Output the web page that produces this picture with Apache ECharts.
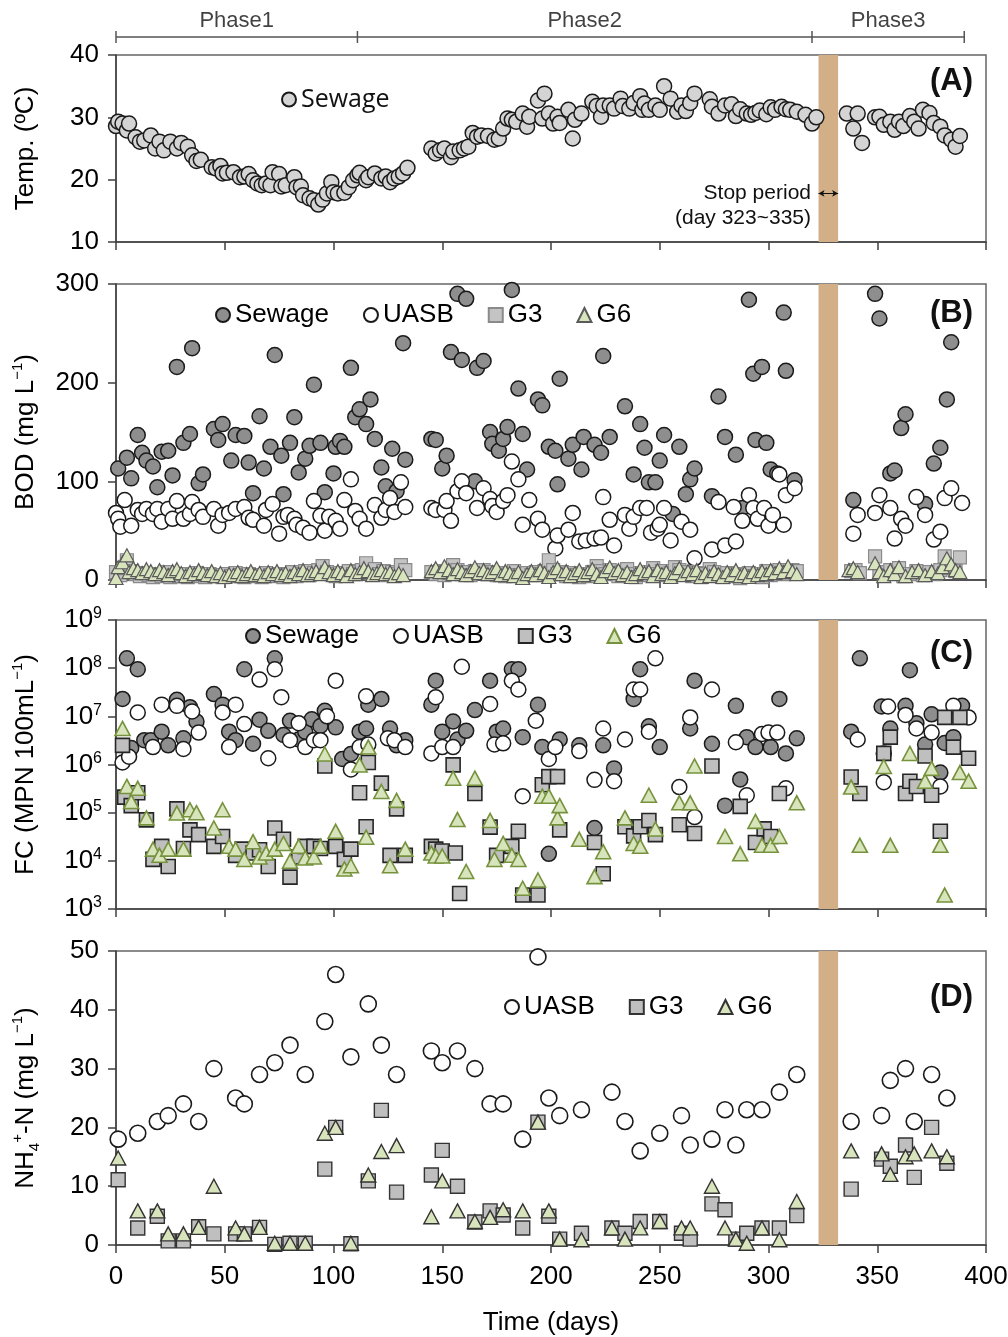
<!DOCTYPE html>
<html><head><meta charset="utf-8">
<script src="https://cdn.jsdelivr.net/npm/echarts/dist/echarts.min.js"></script>
<style>html,body{margin:0;padding:0;background:#fff}#c{width:1008px;height:1337px}</style>
</head><body><div id="c"></div><script>
// ---------- data ----------
const phaseBounds = [0, 111, 320, 390];
const phaseNames = ['Phase1', 'Phase2', 'Phase3'];
const stopPeriod = [323, 332];
const xTickLabels = [0, 50, 100, 150, 200, 250, 300, 350, 400];

// (A) Temperature of sewage [day, degC]
const tempSewage = [[0,28.6],[1,29.3],[3,29.0],[5,27.9],[6,29.0],[9,26.8],[11,26.1],[13,26.3],[16,27.1],[18,25.0],[20,26.1],[22,24.7],[25,26.1],[28,25.0],[30,25.9],[33,25.3],[35,23.9],[37,23.0],[39,23.2],[44,22.0],[46,21.8],[48,22.2],[49,21.0],[51,21.1],[54,21.2],[57,20.4],[59,20.5],[61,20.9],[63,19.9],[65,19.4],[67,19.1],[69,19.4],[71,19.1],[72,21.2],[75,20.9],[76,18.9],[78,19.1],[82,20.4],[83,18.8],[85,18.9],[86,17.5],[89,17.0],[91,16.7],[93,16.0],[95,16.8],[97,17.8],[99,19.6],[100,18.0],[102,17.8],[105,17.9],[107,18.8],[109,19.9],[111,20.7],[112,21.1],[115,19.9],[116,20.4],[119,21.0],[122,20.2],[124,20.5],[126,19.6],[128,20.2],[130,20.5],[132,21.0],[134,21.9],
[145,25.0],[147,24.2],[149,24.7],[151,25.0],[154,23.6],[155,24.5],[158,24.7],[160,25.0],[162,25.3],[164,27.5],[166,26.9],[168,27.1],[171,27.0],[174,26.4],[176,26.6],[178,28.2],[180,29.8],[182,29.6],[184,29.3],[187,30.6],[189,28.5],[190,30.1],[194,32.7],[196,29.8],[197,33.8],[199,30.6],[201,29.0],[203,30.1],[204,29.1],[208,31.2],[210,26.6],[211,29.6],[214,30.6],[219,32.5],[221,31.8],[223,30.1],[224,31.9],[227,31.9],[229,31.4],[232,33.0],[233,31.8],[236,31.4],[238,32.3],[241,33.4],[242,31.2],[243,32.2],[245,31.2],[248,31.9],[250,31.2],[252,35.0],[255,33.0],[258,30.9],[260,31.9],[262,31.0],[264,32.3],[266,33.8],[273,32.9],[274,31.7],[277,30.6],[280,31.9],[283,32.1],[285,30.2],[287,31.3],[290,30.6],[292,30.4],[294,30.7],[296,31.1],[299,30.5],[301,31.6],[303,31.2],[306,31.7],[308,31.3],[310,31.2],[313,30.9],[317,30.4],[320,29.0],[322,30.0],
[336,30.6],[339,28.2],[341,30.6],[343,25.9],[349,30.0],[351,30.1],[353,28.8],[356,29.3],[358,28.0],[360,29.3],[362,28.6],[365,30.2],[367,29.3],[369,28.2],[371,31.2],[374,30.7],[376,29.1],[379,28.5],[381,27.1],[384,26.4],[386,25.3],[388,27.0]];

// (B) BOD [day, mg/L]
const bodSewage = [[1,113],[5,124],[7,103],[10,147],[12,129],[14,121],[17,115],[19,94],[21,130],[24,131],[26,106],[28,216],[31,139],[34,148],[35,235],[38,98],[40,107],[45,153],[47,142],[49,158],[53,121],[55,147],[59,146],[61,119],[63,88],[66,166],[68,113],[71,135],[73,228],[76,126],[77,87],[80,139],[82,165],[84,109],[87,123],[89,136],[91,198],[94,139],[96,89],[100,108],[101,135],[103,141],[105,135],[108,215],[110,165],[112,173],[115,158],[117,183],[119,143],[122,114],[124,95],[127,133],[129,90],[132,240],[133,122],
[145,143],[147,142],[150,113],[152,126],[154,231],[157,290],[159,223],[161,285],[165,100],[166,215],[169,222],[172,150],[173,138],[176,131],[178,143],[180,155],[182,294],[185,194],[187,148],[189,112],[194,183],[196,177],[199,135],[202,131],[203,97],[204,204],[208,123],[210,137],[214,112],[215,145],[220,137],[223,129],[224,227],[227,145],[234,176],[238,107],[241,158],[243,134],[245,99],[248,99],[250,121],[252,147],[256,67],[259,135],[262,87],[264,102],[266,113],[274,85],[277,186],[280,145],[285,127],[288,73],[291,284],[293,209],[294,142],[297,216],[299,139],[301,112],[304,108],[307,271],[308,212],[312,101],
[339,81],[349,290],[351,265],[356,108],[358,111],[361,154],[363,168],[372,77],[376,118],[379,134],[382,183],[384,241]];
const bodUASB = [[0,68],[1,62],[2,54],[4,81],[7,55],[10,71],[12,67],[14,72],[17,67],[19,72],[21,59],[24,72],[26,62],[28,80],[31,62],[34,67],[35,79],[38,71],[40,64],[45,72],[47,55],[49,66],[52,68],[55,72],[59,74],[61,63],[63,61],[68,55],[69,71],[72,77],[75,47],[77,64],[79,66],[82,62],[83,56],[86,53],[89,48],[91,80],[94,65],[96,50],[98,64],[101,60],[103,52],[105,81],[108,102],[110,70],[112,62],[115,52],[119,76],[122,63],[124,71],[126,83],[128,69],[131,99],[133,74],
[145,73],[147,71],[151,71],[152,80],[154,60],[157,90],[159,100],[161,88],[166,73],[169,93],[172,82],[173,75],[175,69],[178,80],[180,86],[182,120],[185,102],[187,56],[190,81],[194,62],[196,51],[202,32],[203,45],[208,51],[210,68],[213,39],[216,40],[220,42],[223,43],[224,84],[227,61],[229,35],[234,66],[236,52],[238,64],[241,73],[244,73],[246,48],[249,52],[250,56],[252,73],[255,40],[260,59],[264,51],[266,22],[274,31],[277,79],[280,35],[284,74],[285,39],[288,60],[291,86],[293,73],[295,62],[298,73],[300,55],[302,66],[305,107],[307,56],[308,86],[312,93],
[339,47],[341,66],[349,68],[351,86],[356,73],[358,42],[361,62],[363,55],[368,84],[372,66],[376,41],[379,49],[381,83],[384,93],[389,78]];
const bodG3 = [[0,8],[2,5],[4,12],[5,20],[7,9],[9,6],[11,4],[13,7],[15,5],[17,3],[19,6],[21,4],[23,8],[25,3],[27,5],[29,4],[31,6],[33,3],[35,5],[37,7],[39,4],[41,3],[43,6],[45,4],[47,5],[49,3],[51,6],[53,4],[55,7],[57,5],[59,3],[61,6],[63,4],[65,5],[67,3],[69,7],[71,5],[73,4],[75,6],[77,3],[79,5],[81,8],[83,4],[85,6],[87,9],[89,5],[91,7],[93,10],[95,14],[97,8],[99,6],[101,4],[103,7],[105,5],[107,9],[109,6],[111,8],[113,10],[115,17],[117,7],[119,11],[121,6],[123,9],[125,5],[127,8],[129,6],[131,15],[133,10],
[145,8],[147,6],[149,9],[151,5],[153,7],[155,15],[157,10],[159,6],[161,8],[163,5],[165,9],[167,7],[169,10],[171,6],[173,8],[175,5],[177,7],[179,4],[181,6],[183,9],[185,5],[187,3],[189,7],[191,5],[193,8],[195,6],[197,9],[199,20],[201,10],[203,6],[205,8],[207,4],[209,7],[211,5],[213,3],[215,6],[217,4],[219,8],[221,14],[223,9],[225,6],[227,10],[229,7],[231,4],[233,8],[235,11],[237,6],[239,3],[241,7],[243,5],[245,8],[247,12],[249,6],[251,9],[253,5],[255,7],[257,13],[259,10],[261,6],[263,8],[265,4],[267,7],[269,3],[271,6],[273,11],[275,8],[277,5],[279,3],[281,7],[283,4],[285,6],[287,2],[289,5],[291,7],[293,4],[295,6],[297,3],[299,9],[301,5],[303,7],[305,10],[307,6],[309,8],[311,10],[313,9],
[338,9],[340,10],[342,7],[349,24],[351,8],[353,5],[356,10],[358,7],[360,12],[362,4],[365,6],[368,9],[371,5],[374,8],[377,6],[379,10],[381,24],[383,12],[386,9],[388,23]];
const bodG6 = [[0,2],[1,13],[3,18],[5,25],[6,8],[8,12],[10,10],[12,7],[14,11],[16,9],[18,6],[20,10],[22,8],[24,5],[26,9],[28,11],[30,7],[32,4],[34,8],[36,6],[38,10],[40,7],[42,5],[44,9],[46,4],[48,7],[50,3],[52,6],[54,5],[56,8],[58,4],[60,6],[62,9],[64,5],[66,7],[68,4],[70,8],[72,6],[74,9],[76,5],[78,7],[80,4],[82,8],[84,6],[86,10],[88,5],[90,7],[92,9],[94,6],[96,13],[98,8],[100,5],[102,9],[104,7],[106,4],[108,10],[110,6],[112,8],[114,12],[116,9],[118,5],[120,7],[122,10],[124,6],[126,8],[128,4],[130,7],[132,5],
[145,9],[147,12],[149,8],[151,14],[153,10],[155,6],[157,11],[159,8],[161,5],[163,9],[165,13],[167,7],[169,10],[171,6],[173,8],[175,12],[177,5],[179,9],[181,7],[183,4],[185,8],[187,2],[189,6],[191,9],[193,5],[195,10],[197,7],[199,3],[201,8],[203,12],[205,6],[207,9],[209,4],[211,7],[213,10],[215,5],[217,8],[219,11],[221,6],[223,3],[225,9],[227,13],[229,7],[231,10],[233,5],[235,8],[237,3],[239,6],[241,11],[243,7],[245,9],[247,4],[249,10],[251,6],[253,8],[255,3],[257,7],[259,12],[261,5],[263,9],[265,6],[267,10],[269,3],[271,7],[273,4],[275,9],[277,6],[279,3],[281,8],[283,5],[285,10],[287,4],[289,7],[291,3],[293,8],[295,5],[297,9],[299,6],[301,10],[303,7],[305,12],[307,8],[309,14],[311,9],[313,6],
[337,10],[339,12],[341,8],[349,17],[351,8],[353,4],[356,10],[358,6],[360,13],[363,4],[366,8],[369,10],[372,5],[375,9],[378,7],[380,13],[382,22],[384,16],[386,10],[388,8]];

// (C) Fecal coliforms [day, MPN/100mL]
const fcSewage = [[3,2.3e7],[5,1.6e8],[7,2.2e6],[10,9.5e7],[13,3.2e6],[16,3.2e6],[21,4.8e6],[24,2.5e6],[28,2.2e7],[31,3.5e6],[34,1.55e7],[37,7.8e6],[45,2.9e7],[49,1.75e7],[52,4.8e6],[55,3.2e6],[59,9.5e7],[63,2.7e6],[66,8.5e6],[70,5.0e6],[73,1.6e8],[77,4.1e6],[80,8.1e6],[84,3.3e6],[87,4.8e6],[90,8.7e6],[94,6.3e6],[96,1.3e7],[101,5.9e6],[104,1.3e6],[108,1.65e6],[112,4.8e6],[115,5.6e6],[116,1.75e7],[122,2.3e7],[126,5.6e6],[129,2.5e6],[133,3.2e6],
[145,1.75e7],[147,5.5e7],[150,4.8e6],[155,7.8e6],[157,3.3e6],[161,5.0e6],[165,1.35e7],[172,5.5e7],[175,4.8e6],[178,5.6e6],[182,9.5e7],[185,9.5e7],[187,3.7e6],[194,1.75e7],[196,2.3e6],[199,1.4e4],[204,3.3e6],[213,2.5e6],[220,4.8e4],[224,2.5e6],[229,8.3e5],[238,2.3e7],[241,9.5e7],[245,6.2e6],[250,2.3e6],[264,5.6e6],[266,5.5e7],[274,2.7e6],[280,1.4e5],[285,1.65e7],[287,4.9e5],[290,3.7e6],[294,2.3e6],[301,2.3e6],[305,2.3e7],[308,1.7e6],[313,3.5e6],
[338,4.8e6],[342,1.6e8],[352,1.6e7],[353,1.7e6],[356,5.6e6],[363,1.65e7],[365,9.1e7],[368,7.2e6],[372,2.6e6],[375,1.1e7],[379,6.8e5],[381,2.8e6],[385,3.7e6],[389,1.65e7]];
const fcUASB = [[3,1.1e6],[6,1.45e6],[10,1.2e7],[17,2.3e6],[21,1.75e7],[28,1.65e7],[31,2.1e6],[35,1.26e7],[38,4.6e6],[49,1.2e7],[52,2.3e6],[55,1.75e7],[59,6.9e6],[66,5.8e7],[70,1.35e6],[73,9.5e7],[76,2.5e7],[80,3.2e6],[84,7.2e6],[87,2.3e6],[91,3.2e6],[94,3.2e6],[97,1.0e7],[101,5.5e7],[108,7.9e5],[112,2.3e6],[115,2.6e7],[116,2.6e6],[125,3.5e6],[128,3.2e6],[133,2.3e6],
[145,1.7e6],[147,2.5e7],[150,2.3e6],[155,2.3e6],[159,1.07e8],[172,1.8e7],[174,2.6e6],[178,2.75e6],[182,5.5e7],[185,3.6e7],[187,2.2e5],[193,8.1e6],[199,1.3e6],[202,2.3e6],[213,1.9e6],[220,4.8e5],[224,5.6e6],[229,4.5e5],[234,3.3e6],[238,3.6e7],[241,3.6e7],[245,4.8e6],[248,1.6e8],[259,3.4e5],[264,9.5e6],[266,8.1e4],[274,3.6e7],[285,2.9e6],[290,2.3e5],[297,4.3e6],[300,4.6e6],[304,4.6e6],[308,3.2e5],
[341,3.3e6],[353,4.3e5],[355,1.6e7],[363,1.07e7],[368,5.6e6],[375,4.6e6],[379,3.5e5],[385,1.65e7],[392,9.5e6]];
const fcG3 = [[3,2.5e6],[4,2.1e5],[7,1.4e5],[10,2.6e5],[14,7.1e4],[17,1.07e4],[21,2.0e4],[24,7.6e3],[28,1.2e5],[31,1.8e4],[34,4.4e4],[38,3.5e4],[45,2.0e4],[49,3.2e4],[55,1.3e4],[58,1.75e4],[63,1.45e4],[66,1.7e4],[70,7.6e3],[73,4.8e4],[77,2.8e4],[80,4.6e3],[84,1.2e4],[87,2.0e4],[91,2.0e4],[94,1.8e4],[96,9.3e5],[101,2.0e4],[105,1.07e4],[108,1.75e4],[112,2.6e5],[115,5.1e4],[116,1.1e6],[122,4.1e5],[126,1.3e4],[129,1.2e5],[133,1.3e4],
[145,2.0e4],[147,1.75e4],[150,1.6e4],[155,9.8e5],[156,1.45e4],[158,2.1e3],[165,2.5e5],[172,5.0e4],[175,1.3e4],[182,2.0e4],[185,4.1e4],[187,1.95e3],[194,1.95e3],[196,3.8e5],[199,5.6e5],[203,5.6e5],[204,4.4e4],[220,2.4e4],[224,5.4e3],[234,5.1e4],[238,3.3e4],[241,5.1e4],[245,6.9e4],[248,3.5e4],[259,5.6e4],[266,3.7e4],[274,9.3e5],[287,1.35e5],[294,2.4e4],[298,4.6e4],[301,3.2e4],[305,2.5e5],
[338,5.5e5],[342,2.5e5],[353,1.7e6],[356,3.7e6],[363,2.5e5],[365,4.5e5],[368,3.5e5],[372,1.5e6],[375,2.3e5],[379,4.1e4],[381,9.5e6],[385,2.3e6],[388,9.5e6],[392,1.35e6]];
const fcG6 = [[3,5.6e6],[5,3.5e5],[7,1.7e5],[10,3.2e5],[14,7.8e4],[17,1.75e4],[20,1.3e4],[24,1.75e4],[28,9.8e4],[31,1.75e4],[34,1.15e5],[37,1.0e5],[45,4.8e4],[49,1.15e5],[52,2.0e4],[55,1.75e4],[59,1.07e4],[63,2.5e4],[66,1.2e4],[69,1.45e4],[73,1.75e4],[77,2.3e4],[80,9.8e3],[84,2.0e4],[87,1.15e4],[91,1.2e4],[94,2.0e4],[96,1.65e6],[101,4.1e4],[105,6.8e3],[108,7.9e3],[112,9.8e5],[115,3.1e4],[116,2.3e6],[122,2.75e5],[126,7.9e3],[129,1.8e5],[133,1.75e4],
[145,1.45e4],[147,1.26e4],[150,1.26e4],[155,5.2e5],[157,7.2e4],[161,6.0e3],[165,5.2e5],[172,6.9e4],[174,1.07e4],[178,2.3e4],[182,1.3e4],[185,1.07e4],[187,2.7e3],[194,4.0e3],[196,2.2e5],[199,2.2e5],[203,7.8e4],[204,1.4e5],[213,2.8e4],[220,4.7e3],[224,1.55e4],[234,7.8e4],[238,2.3e4],[241,2.0e4],[245,2.3e5],[248,4.6e4],[259,1.6e5],[264,1.6e5],[266,9.3e5],[280,3.2e4],[287,1.4e4],[294,6.6e4],[297,2.1e4],[301,2.1e4],[305,3.2e4],[313,1.6e5],
[338,3.4e5],[342,2.1e4],[353,9.1e5],[356,2.1e4],[365,1.7e6],[372,4.5e5],[375,8.3e5],[379,2.1e4],[381,1.95e3],[388,6.8e5],[392,4.5e5]];

// (D) NH4+-N [day, mg/L]
const nhUASB = [[1,18],[10,19],[19,21],[24,22],[31,24],[38,21],[45,30],[55,25],[59,24],[66,29],[73,31],[80,34],[87,29],[96,38],[101,46],[108,32],[116,41],[122,34],[129,29],[145,33],[150,31],[157,33],[165,30],[172,24],[178,24],[187,18],[194,49],[199,25],[204,22],[214,23],[228,26],[234,21],[241,16],[250,19],[260,22],[264,17],[274,18],[280,23],[285,17],[290,23],[297,23],[305,26],[313,29],[338,21],[352,22],[356,28],[363,30],[367,21],[375,29],[382,25]];
const nhG3 = [[1,11.1],[10,2.9],[19,4.9],[24,0.7],[31,0.7],[38,3.1],[45,1.9],[55,1.9],[59,1.9],[66,3.0],[73,0.1],[80,0.3],[87,0.3],[96,12.9],[101,20],[108,0.2],[116,10.9],[122,22.9],[129,9.0],[145,11.9],[150,16.1],[157,10.0],[165,3.9],[172,5.8],[178,5.1],[187,2.9],[194,20.9],[199,4.9],[204,1.0],[214,2.0],[228,2.9],[234,2.0],[241,4.0],[250,4.0],[260,2.0],[264,1.0],[274,7.0],[280,6.0],[285,1.0],[290,2.0],[297,2.9],[305,2.9],[313,5.0],[338,9.5],[352,14.6],[356,13.4],[363,17.0],[367,11.5],[375,20.0],[382,13.9]];
const nhG6 = [[1,14.8],[10,5.8],[19,5.8],[24,1.9],[31,1.9],[38,3.0],[45,10.0],[55,2.9],[59,1.9],[66,3.0],[73,0.3],[80,0.3],[87,0.3],[96,19.0],[101,20.0],[108,0.3],[116,11.9],[122,15.9],[129,16.9],[145,4.8],[150,10.9],[157,5.8],[165,4.0],[172,4.7],[178,6.0],[187,5.8],[194,20.9],[199,5.8],[204,1.0],[214,0.9],[228,2.9],[234,1.0],[241,2.9],[250,4.0],[260,2.9],[264,2.9],[274,10.0],[280,2.9],[285,1.0],[290,0.3],[297,2.9],[305,0.9],[313,7.4],[338,16.0],[352,15.5],[356,12.0],[363,15.0],[367,15.5],[375,16.0],[382,15.0]];

// ---------- chart ----------
const NARROW = "'Liberation Sans Narrow','Arial Narrow','Liberation Sans',Arial,sans-serif";
const SANS = "'Liberation Sans',Arial,sans-serif";
const AX = '#404040';
const BAND = '#d3af88';

const gridTops = [55, 284, 620, 951];
const gridHeights = [187, 296, 289, 294];

const grids = gridTops.map((t, i) => ({left: 116, right: 22, top: t, height: gridHeights[i],
  show: true, borderColor: '#666666', borderWidth: 1.5, outerBoundsMode: 'none', containLabel: false}));
grids.push({left: 116, right: 22, top: 27, height: 20, outerBoundsMode: 'none'});

const xAxes = [0,1,2,3].map(i => ({
  type: 'value', gridIndex: i, min: 0, max: 400, interval: 50,
  axisLine: {show: true, onZero: false, lineStyle: {color: AX, width: 1.5}},
  axisTick: {show: true, length: 8, lineStyle: {color: AX, width: 1.5}},
  splitLine: {show: false},
  axisLabel: {show: i === 3, margin: 19, fontSize: 26, color: '#000', fontFamily: NARROW},
  name: i === 3 ? 'Time (days)' : '', nameLocation: 'middle', nameGap: 65,
  nameTextStyle: {fontSize: 26, color: '#000', fontFamily: NARROW}
}));
xAxes.push({type: 'value', gridIndex: 4, min: 0, max: 400, show: false});

const supRich = {
  n: {fontSize: 26, fontFamily: SANS, color: '#000', lineHeight: 32},
  sup: {fontSize: 15, fontFamily: SANS, color: '#000', verticalAlign: 'top', lineHeight: 32, padding: [0,0,12,0]},
  sub: {fontSize: 15, fontFamily: SANS, color: '#000', verticalAlign: 'bottom', lineHeight: 32, padding: [10,0,0,0]}
};
function yAx(i, extra, name, gap) {
  return Object.assign({
    type: 'value', gridIndex: i,
    axisLine: {show: true, lineStyle: {color: AX, width: 1.5}},
    axisTick: {show: true, length: 8, lineStyle: {color: AX, width: 1.5}},
    splitLine: {show: false},
    axisLabel: {margin: 17, fontSize: 26, color: '#000', fontFamily: NARROW},
    name: name, nameLocation: 'middle', nameGap: gap,
    nameTextStyle: {fontSize: 26, color: '#000', fontFamily: SANS, rich: supRich}
  }, extra);
}
const yAxes = [
  yAx(0, {min: 10, max: 40, interval: 10}, '{n|Temp. (ºC)}', 74),
  yAx(1, {min: 0, max: 300, interval: 100}, '{n|BOD (mg L}{sup|−1}{n|)}', 74),
  yAx(2, {type: 'log', logBase: 10, min: 1e3, max: 1e9, interval: 1,
    axisLabel: {margin: 14, color: '#000', formatter: v => '{b|10}{e|' + Math.round(Math.log10(v)) + '}',
      rich: {b: {fontSize: 26, fontFamily: NARROW, color: '#000'}, e: {fontSize: 16, fontFamily: NARROW, color: '#000', verticalAlign: 'top', padding: [0,0,12,0]}}}},
    '{n|FC (MPN 100mL}{sup|−1}{n|)}', 74),
  yAx(3, {min: 0, max: 50, interval: 10}, '{n|NH}{sub|4}{sup|+}{n|-N (mg L}{sup|−1}{n|)}', 74)
];
yAxes.push({type: 'value', gridIndex: 4, min: -1, max: 1, show: false});

function sc(name, g, data, symbol, size, fill, border, bw) {
  return {type: 'scatter', name: name, xAxisIndex: g, yAxisIndex: g, data: data,
    symbol: symbol, symbolSize: size, silent: true,
    itemStyle: {color: fill, borderColor: border, borderWidth: bw, opacity: 1}};
}
function band(s) {
  s.markArea = {silent: true, itemStyle: {color: BAND, opacity: 1},
    data: [[{xAxis: stopPeriod[0]}, {xAxis: stopPeriod[1]}]]};
  return s;
}

const sA = band(sc('A-Sewage', 0, tempSewage, 'circle', 15, '#d4d4d4', '#1a1a1a', 1.5));
sA.markLine = {silent: true, symbol: ['arrow', 'arrow'], symbolSize: [5, 6],
  lineStyle: {color: '#111', width: 1, type: 'solid'}, label: {show: false},
  data: [[{coord: [stopPeriod[0], 17.8]}, {coord: [stopPeriod[1], 17.8]}]]};

const series = [
  sA,
  band(sc('B-Sewage', 1, bodSewage, 'circle', 15, '#8e8e8e', '#1a1a1a', 1.5)),
  sc('B-UASB', 1, bodUASB, 'circle', 15, '#ffffff', '#1a1a1a', 1.5),
  sc('B-G3', 1, bodG3, 'rect', 13, '#c4c4c4', '#8a8a8a', 1.2),
  sc('B-G6', 1, bodG6, 'triangle', [14, 13], '#d8e4bc', '#5a5a5a', 1.2),
  band(sc('C-Sewage', 2, fcSewage, 'circle', 15, '#8e8e8e', '#1a1a1a', 1.5)),
  sc('C-UASB', 2, fcUASB, 'circle', 15, '#ffffff', '#1a1a1a', 1.5),
  sc('C-G3', 2, fcG3, 'rect', 14, '#bfbfbf', '#262626', 1.6),
  sc('C-G6', 2, fcG6, 'triangle', [15, 14], '#d8e4bc', '#76923c', 1.6),
  band(sc('D-UASB', 3, nhUASB, 'circle', 16, '#ffffff', '#1a1a1a', 1.6)),
  sc('D-G3', 3, nhG3, 'rect', 14, '#bfbfbf', '#333333', 1.4),
  sc('D-G6', 3, nhG6, 'triangle', [15, 14], '#d8e4bc', '#333333', 1.4),
  {type: 'line', xAxisIndex: 4, yAxisIndex: 4, silent: true,
    data: phaseBounds.map(d => [d, 0]), symbol: 'rect', symbolSize: [1.5, 12],
    lineStyle: {color: '#555', width: 1.5}, itemStyle: {color: '#555'}},
  {type: 'scatter', xAxisIndex: 4, yAxisIndex: 4, silent: true, symbolSize: 0,
    data: phaseNames.map((n, i) => ({name: n, value: [(phaseBounds[i] + phaseBounds[i + 1]) / 2, 0]})),
    label: {show: true, position: 'top', distance: 5, formatter: '{b}', fontSize: 22, color: '#111', fontFamily: NARROW}}
];

const legTxt = {fontSize: 26, color: '#000', fontFamily: SANS};
const fmt = n => n.split('-')[1];
const legends = [
  {left: 281, top: 87, padding: 0, data: ['A-Sewage'], formatter: fmt, selectedMode: false, itemWidth: 14, itemHeight: 14,
    textStyle: {fontSize: 25, color: '#111', fontFamily: "'Open Sans','DejaVu Sans',sans-serif"}},
  {left: 215, top: 302, padding: 0, itemGap: 34, data: ['B-Sewage', 'B-UASB', 'B-G3', 'B-G6'], formatter: fmt, selectedMode: false, itemWidth: 14, itemHeight: 14, textStyle: legTxt},
  {left: 245, top: 623, padding: 0, itemGap: 34, data: ['C-Sewage', 'C-UASB', 'C-G3', 'C-G6'], formatter: fmt, selectedMode: false, itemWidth: 14, itemHeight: 14, textStyle: legTxt},
  {left: 504, top: 994, padding: 0, itemGap: 34, data: ['D-UASB', 'D-G3', 'D-G6'], formatter: fmt, selectedMode: false, itemWidth: 14, itemHeight: 14, textStyle: legTxt}
];

const panelLetters = ['(A)', '(B)', '(C)', '(D)'];
const letterTops = [61, 293, 633, 977];
const titles = panelLetters.map((t, i) => ({text: t, right: 30, top: letterTops[i],
  textStyle: {fontSize: 31, fontWeight: 'bold', color: '#111', fontFamily: SANS}}));

const chart = echarts.init(document.getElementById('c'), null, {renderer: 'canvas'});
chart.setOption({
  animation: false,
  backgroundColor: '#fff',
  title: titles,
  legend: legends,
  grid: grids,
  xAxis: xAxes,
  yAxis: yAxes,
  series: series,
  graphic: [{type: 'text', x: 811, y: 181, silent: true,
    style: {text: 'Stop period\n(day 323~335)', align: 'right', verticalAlign: 'top', lineHeight: 25,
      fontSize: 21, fontFamily: NARROW, fill: '#111'}}]
});
</script></body></html>
